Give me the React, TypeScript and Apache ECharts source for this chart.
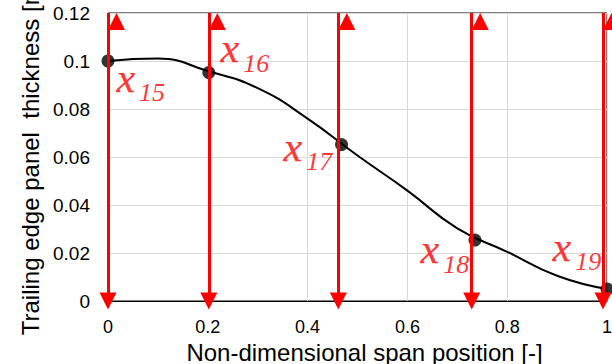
import React, { useEffect, useRef } from 'react';
import * as echarts from 'echarts';

// Smooth thickness curve (x = non-dimensional span, y = thickness [m])
const curveX = [0, 0.1, 0.2, 0.3, 0.4, 0.5, 0.6, 0.7, 0.8, 0.9, 1.0];
const curveY = [0.1, 0.101, 0.0958, 0.0887, 0.076, 0.0606, 0.046, 0.0303, 0.0205, 0.0105, 0.005];

// Design variable control points
const pointX = [0, 0.202, 0.468, 0.7355, 1.0];
const pointY = [0.1, 0.0952, 0.0652, 0.0254, 0.005];

// Double-headed red arrows (variable ranges)
const arrowX = [0, 0.202, 0.4616, 0.7288, 0.992];
const arrowRange = [0, 0.12];

// Variable labels x15..x19 (anchor = top-left of label, data coords)
const labelNames = ['15', '16', '17', '18', '19'];
const labelX = [0.018, 0.2265, 0.3527, 0.6273, 0.8918];
const labelY = [0.1016, 0.1138, 0.0728, 0.0302, 0.0312];

const xTitle = 'Non-dimensional span position [-]';
const yTitle = 'Trailing edge panel  thickness [m]';

export default function App() {
  const ref = useRef<HTMLDivElement>(null);

  useEffect(() => {
    if (!ref.current) return;
    const chart = echarts.init(ref.current, null, { renderer: 'svg' });
    const sans = 'Liberation Sans, Arial, sans-serif';
    const serif = 'Liberation Serif, Times New Roman, serif';

    const option: any = {
      animation: false,
      backgroundColor: '#ffffff',
      grid: {
        left: 108,
        right: 5,
        top: 13,
        bottom: 63,
        show: true,
        borderColor: '#000',
        borderWidth: 1,
        backgroundColor: 'transparent',
        containLabel: false,
        outerBoundsMode: 'none',
      },
      xAxis: {
        type: 'value',
        min: 0,
        max: 1,
        interval: 0.2,
        name: xTitle,
        nameLocation: 'middle',
        nameGap: 35,
        nameTextStyle: { fontFamily: sans, fontSize: 24, color: '#000', padding: [0, 0, 0, 14] },
        axisLine: { show: true, lineStyle: { color: '#000', width: 1 } },
        axisTick: { show: false },
        axisLabel: { fontFamily: sans, fontSize: 18, color: '#000', margin: 17 },
        splitLine: { show: true, lineStyle: { color: '#d9d9d9', width: 1 } },
      },
      yAxis: {
        type: 'value',
        min: 0,
        max: 0.12,
        interval: 0.02,
        name: yTitle,
        nameLocation: 'middle',
        nameGap: 61,
        nameTextStyle: { fontFamily: sans, fontSize: 24, color: '#000' },
        axisLine: { show: false },
        axisTick: { show: false },
        axisLabel: { fontFamily: sans, fontSize: 19, color: '#000', margin: 18 },
        splitLine: { show: true, lineStyle: { color: '#d9d9d9', width: 1 } },
      },
      series: [
        {
          type: 'line',
          data: curveX.map((x, i) => [x, curveY[i]]),
          smooth: 0.5,
          showSymbol: false,
          symbol: 'none',
          lineStyle: { color: '#000', width: 2 },
          silent: true,
          z: 2,
        },
        {
          type: 'scatter',
          data: pointX.map((x, i) => [x, pointY[i]]),
          symbol: 'circle',
          symbolSize: 13,
          itemStyle: { color: '#000' },
          silent: true,
          z: 3,
        },
        {
          type: 'line',
          data: [],
          silent: true,
          z: 4,
          markLine: {
            silent: true,
            animation: false,
            symbol: ['triangle', 'triangle'],
            symbolSize: [17, 17],
            symbolOffset: [0, '50%'],
            label: { show: false },
            emphasis: { disabled: true },
            lineStyle: { color: '#ff0000', width: 3, type: 'solid' },
            itemStyle: { color: '#ff0000' },
            data: arrowX.map((x) => [
              { coord: [x, arrowRange[0]] },
              { coord: [x, arrowRange[1]] },
            ]),
          },
        },
        {
          type: 'scatter',
          data: labelX.map((x, i) => ({ value: [x, labelY[i]], name: labelNames[i] })),
          symbolSize: 1,
          itemStyle: { color: 'rgba(0,0,0,0)' },
          silent: true,
          z: 5,
          label: {
            show: true,
            position: [0, 0],
            align: 'left',
            verticalAlign: 'top',
            formatter: (p: any) => `{x|x}{s|${p.name}}`,
            rich: {
              x: {
                fontFamily: serif,
                fontStyle: 'italic',
                fontSize: 42,
                lineHeight: 42,
                color: '#ff0000',
                textBorderColor: '#ff0000',
                textBorderWidth: 0.25,
                verticalAlign: 'top',
              },
              s: {
                fontFamily: serif,
                fontStyle: 'italic',
                fontSize: 26,
                lineHeight: 26,
                color: '#ff0000',
                verticalAlign: 'top',
                padding: [23, 0, 0, 4],
              },
            },
          },
        },
      ],
    };

    chart.setOption(option);
    return () => {
      chart.dispose();
    };
  }, []);

  return (
    <div
      ref={ref}
      style={{ position: 'fixed', left: 0, top: 0, width: 612, height: 364, background: '#fff' }}
    />
  );
}
